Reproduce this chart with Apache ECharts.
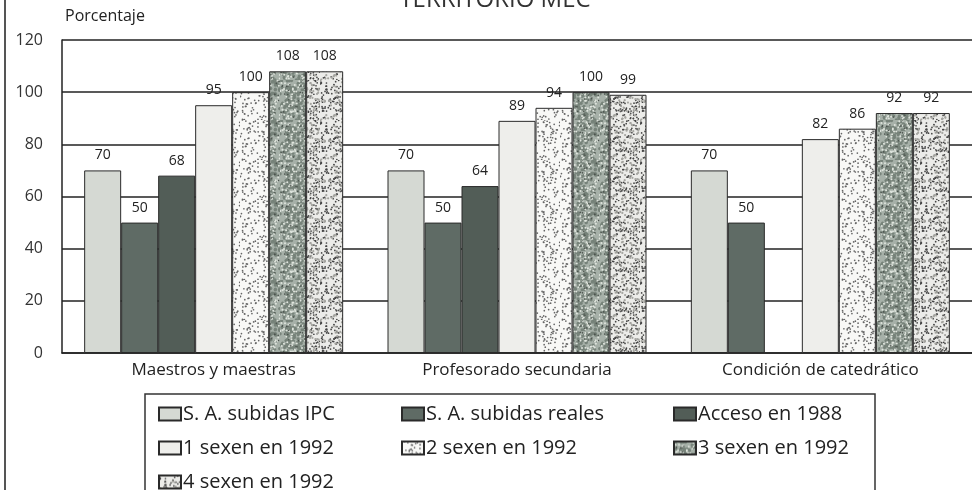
<!DOCTYPE html>
<html>
<head>
<meta charset="utf-8">
<script src="https://cdn.jsdelivr.net/npm/echarts@6/dist/echarts.min.js"></script>
<style>
html,body{margin:0;padding:0;background:#fff;}
#chart{width:972px;height:490px;}
</style>
</head>
<body>
<div id="chart"></div>
<script>
// ---- data ----
var categories = ['Maestros y maestras', 'Profesorado secundaria', 'Condición de catedrático'];
var seriesNames = ['S. A. subidas IPC', 'S. A. subidas reales', 'Acceso en 1988',
                   '1 sexen en 1992', '2 sexen en 1992', '3 sexen en 1992', '4 sexen en 1992'];
var saSubidasIPC    = [70, 70, 70];
var saSubidasReales = [50, 50, 50];
var acceso1988      = [68, 64, null];
var sexen1_1992     = [95, 89, 82];
var sexen2_1992     = [100, 94, 86];
var sexen3_1992     = [108, 100, 92];
var sexen4_1992     = [108, 99, 92];
var yTicks = [0, 20, 40, 60, 80, 100, 120];

// ---- stipple textures (deterministic) ----
function makePattern(bg, dots, size, seed) {
  var c = document.createElement('canvas');
  c.width = size; c.height = size;
  var ctx = c.getContext('2d');
  ctx.fillStyle = bg; ctx.fillRect(0, 0, size, size);
  var s = seed;
  function next() { s = (s * 1103515245 + 12345) % 2147483648; return s / 2147483648; }
  dots.forEach(function (d) {
    ctx.fillStyle = d.color;
    for (var i = 0; i < d.count; i++) {
      var x = next() * size, y = next() * size;
      ctx.beginPath();
      ctx.arc(x, y, d.r, 0, Math.PI * 2);
      ctx.fill();
    }
  });
  return { image: c, repeat: 'repeat' };
}
var pat2 = makePattern('#f8f8f6', [{ color: '#666', count: 110, r: 0.85 }], 40, 7);
var pat3 = makePattern('#a6b0a8', [{ color: '#77837a', count: 160, r: 1.6 }, { color: '#dfe4dd', count: 90, r: 1.0 }, { color: '#4d554f', count: 45, r: 0.8 }], 40, 13);
var pat4 = makePattern('#ecece9', [{ color: '#444', count: 150, r: 0.85 }, { color: '#a5a5a0', count: 70, r: 1.1 }], 40, 29);

var fills = ['#d5d9d3', '#5f6b65', '#525d57', '#eeeeeb', pat2, pat3, pat4];
var values = [saSubidasIPC, saSubidasReales, acceso1988, sexen1_1992, sexen2_1992, sexen3_1992, sexen4_1992];

var FONT = '"Open Sans", "Noto Sans", sans-serif';

var series = seriesNames.map(function (n, i) {
  return {
    name: n,
    type: 'bar',
    data: values[i],
    barWidth: 37,
    barGap: '0%',
    itemStyle: { color: fills[i], borderColor: '#2a2a2a', borderWidth: 1 },
    label: {
      show: true, position: 'top', distance: 8,
      color: '#222', fontSize: 14, fontFamily: FONT
    }
  };
});

// legend item positions: [seriesIndex, left, top]
var legendSlots = [[0, 153, 399], [1, 396, 399], [2, 668, 399],
                   [3, 153, 433], [4, 396, 433], [5, 668, 433],
                   [6, 153, 467]];
var legends = legendSlots.map(function (s) {
  return {
    left: s[1], top: s[2],
    data: [seriesNames[s[0]]], icon: 'rect',
    itemWidth: 22, itemHeight: 13,
    selectedMode: false,
    textStyle: { fontSize: 20, color: '#222', fontFamily: FONT, padding: [0, 0, 0, -3] }
  };
});

var chart = echarts.init(document.getElementById('chart'), null, { renderer: 'canvas' });
chart.setOption({
  animation: false,
  backgroundColor: '#ffffff',
  grid: { left: 62, right: -5, top: 40, bottom: 137 },
  xAxis: {
    type: 'category', data: categories,
    axisLine: { show: true, lineStyle: { color: '#222', width: 1.5 } },
    axisTick: { show: false },
    axisLabel: { color: '#222', fontSize: 17, fontFamily: FONT, margin: 9 }
  },
  yAxis: {
    type: 'value', min: yTicks[0], max: yTicks[yTicks.length - 1], interval: 20,
    axisLine: { show: true, lineStyle: { color: '#222', width: 1.5 } },
    axisTick: { show: false },
    splitLine: { show: true, lineStyle: { color: '#222', width: 1.5 } },
    axisLabel: { color: '#333', fontSize: 16, fontFamily: FONT, margin: 19 }
  },
  legend: legends,
  graphic: [
    { type: 'line', shape: { x1: 5, y1: 0, x2: 5, y2: 490 }, style: { stroke: '#555', lineWidth: 2 } },
    { type: 'rect', shape: { x: 145, y: 394, width: 730, height: 120 }, style: { fill: 'none', stroke: '#333', lineWidth: 1.5 }, z: -1 },
    { type: 'text', left: 65, top: 8, style: { text: 'Porcentaje', fontSize: 16, fill: '#222', fontFamily: FONT } },
    { type: 'text', x: 495, y: 12, style: { text: 'TERRITORIO MEC', fontSize: 24, fill: '#333', fontFamily: FONT, align: 'center', verticalAlign: 'bottom' } }
  ],
  series: series
});
</script>
</body>
</html>
